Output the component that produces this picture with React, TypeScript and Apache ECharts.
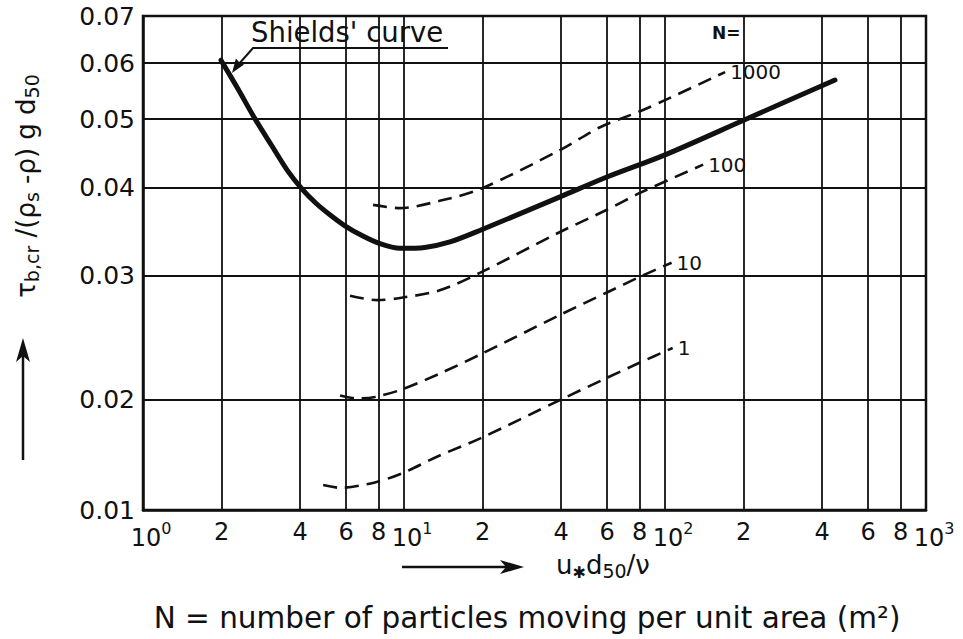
import { useEffect, useRef } from "react";
import * as echarts from "echarts";

// ---- axis ticks ----
const xTicks = [1, 2, 4, 6, 8, 10, 20, 40, 60, 80, 100, 200, 400, 600, 800, 1000];
const xTickLabels = ["10^0", "2", "4", "6", "8", "10^1", "2", "4", "6", "8", "10^2", "2", "4", "6", "8", "10^3"];
const yTicks = [0.01, 0.02, 0.03, 0.04, 0.05, 0.06, 0.07];
const yTickLabels = ["0.01", "0.02", "0.03", "0.04", "0.05", "0.06", "0.07"];

// ---- Shields' curve ----
const shieldsX = [1.99, 2.31, 2.69, 3.12, 3.59, 4.07, 4.6, 5.2, 5.94, 6.9, 8.09, 9.65, 12.0, 15.0, 19.6, 39.6, 59.9, 100, 202, 448];
const shieldsY = [0.0606, 0.0552, 0.05, 0.0458, 0.0422, 0.0398, 0.038, 0.0366, 0.0353, 0.0342, 0.0333, 0.0328, 0.0329, 0.0335, 0.0348, 0.0388, 0.0414, 0.0445, 0.0499, 0.0568];

// ---- N curves ----
const n1000X = [7.61, 9.65, 13.7, 19.6, 39.6, 56.4, 80.2, 100, 170];
const n1000Y = [0.0378, 0.0374, 0.0383, 0.0398, 0.0452, 0.0487, 0.0513, 0.0532, 0.0583];
const n100X = [6.21, 7.88, 9.65, 13.7, 19.6, 39.6, 59.9, 80.2, 140];
const n100Y = [0.0281, 0.0277, 0.0279, 0.0286, 0.0303, 0.0346, 0.0372, 0.0393, 0.0431];
const n10X = [5.69, 6.6, 7.74, 9.82, 13.7, 19.6, 39.6, 59.9, 80.2, 106];
const n10Y = [0.0203, 0.0201, 0.0202, 0.0207, 0.0218, 0.0232, 0.0264, 0.0284, 0.0299, 0.0313];
const n1X = [4.9, 5.69, 7.74, 9.82, 13.7, 19.6, 39.6, 59.9, 80.2, 107];
const n1Y = [0.0117, 0.0115, 0.0119, 0.0126, 0.0141, 0.0157, 0.02, 0.0215, 0.0226, 0.0237];
const nLabels = ["1000", "100", "10", "1"];

const FONT = "DejaVu Sans";
const INK = "#111";

// scales of the original figure: log x; log y above 0.02, compressed log below it
const xT = (x: number) => Math.log10(x);
const yT = (y: number) => (y >= 0.02 ? 110 + 306.5 * Math.log(y / 0.02) : 110 * Math.log2(y / 0.01));

const pts = (xs: number[], ys: number[]) => xs.map((x, i) => [xT(x), yT(ys[i])]);
const lookup = (ticks: number[], labels: string[], tf: (v: number) => number) => (v: number) => {
  const i = ticks.findIndex((t) => Math.abs(tf(t) - v) < 1e-6);
  return i >= 0 ? labels[i] : "";
};

export default function App() {
  const ref = useRef<HTMLDivElement>(null);
  useEffect(() => {
    if (!ref.current) return;
    const chart = echarts.init(ref.current, null, { renderer: "svg" });
    const xLab = lookup(xTicks, xTickLabels, xT);
    const yLab = lookup(yTicks, yTickLabels, yT);
    const isPow = (i: number) => xTickLabels[i].includes("^");
    const minorVals = xTicks.filter((_, i) => !isPow(i)).map(xT);
    const powVals = xTicks.filter((_, i) => isPow(i)).map(xT);
    const dashed = (name: string, xs: number[], ys: number[]) => ({
      type: "line",
      name,
      data: pts(xs, ys),
      smooth: 0.3,
      symbol: "none",
      silent: true,
      lineStyle: { color: INK, width: 2.6, type: [14, 8] },
      endLabel: {
        show: true,
        formatter: name,
        fontSize: 20,
        color: INK,
        fontFamily: FONT,
        distance: 5,
      },
    });
    const sub = { fontSize: 17, fontFamily: FONT, color: INK, verticalAlign: "bottom", lineHeight: 17 };
    const main = { fontSize: 24, fontFamily: FONT, color: INK, lineHeight: 30 };
    chart.setOption({
      animation: false,
      backgroundColor: "#fff",
      textStyle: { fontFamily: FONT, color: INK },
      grid: {
        left: 143,
        right: 37,
        top: 16,
        bottom: 129,
        show: true,
        borderColor: INK,
        borderWidth: 2.5,
        backgroundColor: "transparent",
      },
      xAxis: [
        {
          type: "value",
          min: 0,
          max: 3,
          position: "bottom",
          axisLine: { show: true, onZero: false, lineStyle: { color: INK, width: 2.5 } },
          axisTick: { show: false, customValues: xTicks.map(xT) },
          axisLabel: {
            customValues: minorVals,
            formatter: (v: number) => xLab(v),
            fontSize: 24,
            color: INK,
            margin: 10,
            fontFamily: FONT,
          },
          splitLine: { show: true, lineStyle: { color: INK, width: 1.8 } },
        },
        {
          type: "value",
          min: 0,
          max: 3,
          position: "bottom",
          axisLine: { show: false, onZero: false },
          axisTick: { show: false, customValues: powVals },
          splitLine: { show: false },
          axisLabel: {
            customValues: powVals,
            showMinLabel: true,
            showMaxLabel: true,
            formatter: (v: number) => {
              const [b, e] = xLab(v).split("^");
              return `{pad|}{b|${b}}{e|${e}}`;
            },
            rich: {
              pad: { width: 16 },
              b: { fontSize: 24, fontFamily: FONT, color: INK, lineHeight: 30, verticalAlign: "bottom" },
              e: { fontSize: 16, fontFamily: FONT, color: INK, lineHeight: 20, verticalAlign: "top" },
            },
            margin: 10,
          },
        },
      ],
      yAxis: {
        type: "value",
        min: 0,
        max: yT(0.07),
        axisLine: { show: true, lineStyle: { color: INK, width: 2.5 } },
        axisTick: { show: false, customValues: yTicks.map(yT) },
        axisLabel: {
          customValues: yTicks.map(yT),
          showMinLabel: true,
          showMaxLabel: true,
          formatter: (v: number) => yLab(v),
          fontSize: 25,
          color: INK,
          margin: 8,
          fontFamily: FONT,
        },
        splitLine: { show: true, lineStyle: { color: INK, width: 1.8 } },
      },
      series: [
        {
          type: "line",
          name: "Shields' curve",
          data: pts(shieldsX, shieldsY),
          smooth: 0.3,
          symbol: "none",
          silent: true,
          lineStyle: { color: INK, width: 5, cap: "round" },
        },
        dashed(nLabels[0], n1000X, n1000Y),
        dashed(nLabels[1], n100X, n100Y),
        dashed(nLabels[2], n10X, n10Y),
        dashed(nLabels[3], n1X, n1Y),
      ],
      graphic: [
        // Shields' curve annotation
        {
          type: "text",
          x: 251,
          y: 32,
          style: { text: "Shields' curve", fontSize: 27.5, fontFamily: FONT, fill: INK, align: "left", verticalAlign: "middle" },
        },
        { type: "polyline", shape: { points: [[448, 48], [253, 48], [238, 65]] }, style: { stroke: INK, lineWidth: 2, fill: null } },
        { type: "polygon", shape: { points: [[232, 73], [235.9, 58.6], [240, 63], [244.1, 64.4]] }, style: { fill: INK } },
        // N= label
        {
          type: "text",
          x: 712,
          y: 33,
          style: { text: "N=", fontSize: 17, fontWeight: "bold", fontFamily: FONT, fill: INK, align: "left", verticalAlign: "middle" },
        },
        // y-axis title (rotated)
        {
          type: "text",
          x: 26,
          y: 186,
          rotation: Math.PI / 2,
          style: {
            text: "{t|τ}{s|b,cr}{t| /(ρ}{s|s}{t| -ρ) g d}{s|50}",
            rich: { t: { ...main, fontSize: 26 }, s: { ...sub, fontSize: 19, lineHeight: 19 } },
            align: "center",
            verticalAlign: "middle",
            fill: INK,
          },
        },
        // up arrow
        { type: "line", shape: { x1: 23, y1: 460, x2: 23, y2: 352 }, style: { stroke: INK, lineWidth: 2.5 } },
        { type: "polygon", shape: { points: [[23, 338], [16, 362], [23, 356], [30, 362]] }, style: { fill: INK } },
        // x-axis title
        { type: "line", shape: { x1: 402, y1: 567, x2: 510, y2: 567 }, style: { stroke: INK, lineWidth: 2.5 } },
        { type: "polygon", shape: { points: [[524, 567], [500, 560], [506, 567], [500, 574]] }, style: { fill: INK } },
        {
          type: "text",
          x: 556,
          y: 565,
          style: {
            text: "{t|u}{k|✱}{t|d}{s|50}{t|/ν}",
            rich: { t: { ...main, fontSize: 26 }, s: { ...sub, fontSize: 19, lineHeight: 19 }, k: { ...sub, fontSize: 16, lineHeight: 16 } },
            align: "left",
            verticalAlign: "middle",
            fill: INK,
          },
        },
        // caption
        {
          type: "text",
          x: 527,
          y: 618,
          style: {
            text: "N = number of particles moving per unit area (m²)",
            fontSize: 29.5,
            fontFamily: FONT,
            fill: INK,
            align: "center",
            verticalAlign: "middle",
          },
        },
      ],
    });
    return () => chart.dispose();
  }, []);
  return <div ref={ref} style={{ position: "fixed", left: 0, top: 0, width: 963, height: 639 }} />;
}
